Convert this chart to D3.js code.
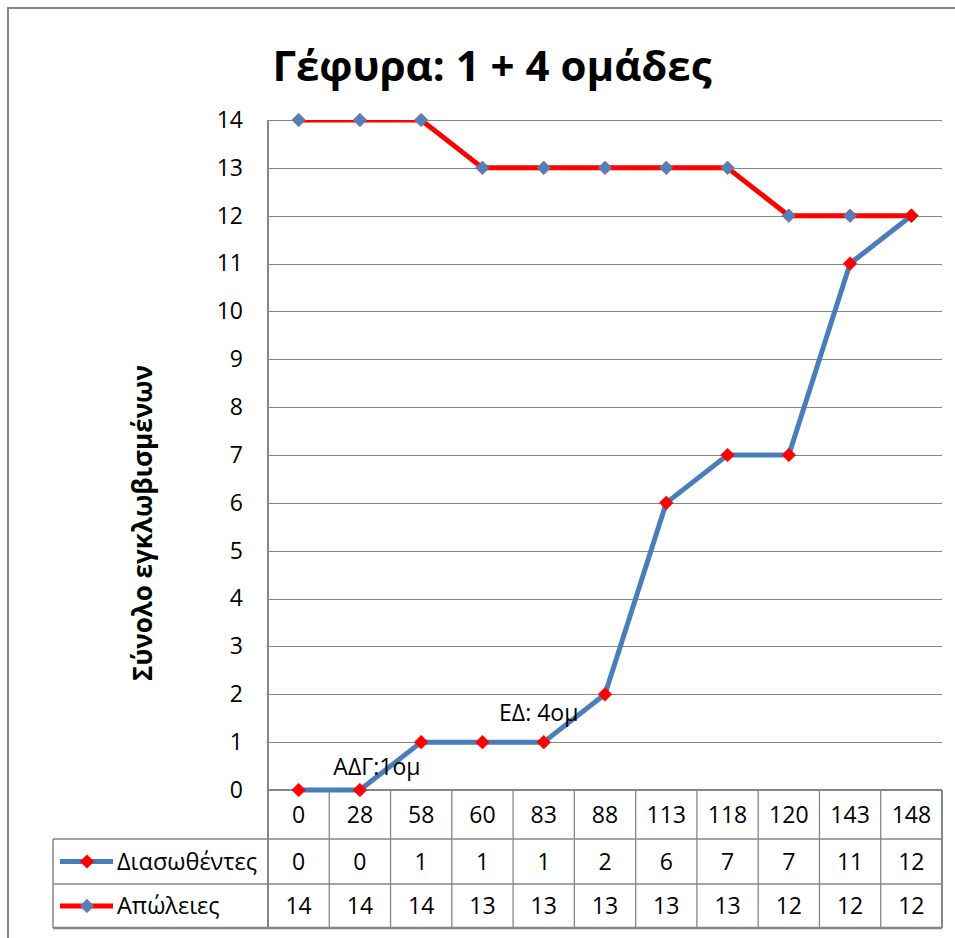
<!DOCTYPE html>
<html>
<head>
<meta charset="utf-8">
<script src="https://cdn.jsdelivr.net/npm/d3@7/dist/d3.min.js"></script>
<style>
  html, body { margin: 0; padding: 0; background: #fff; }
  text { font-family: "Open Sans", "Noto Sans", sans-serif; fill: #000; }
</style>
</head>
<body>
<svg id="chart" width="955" height="938"></svg>
<script>
const categories = ["0", "28", "58", "60", "83", "88", "113", "118", "120", "143", "148"];
const rescued = [0, 0, 1, 1, 1, 2, 6, 7, 7, 11, 12];
const losses = [14, 14, 14, 13, 13, 13, 13, 13, 12, 12, 12];
const yTicks = d3.range(0, 15);
const seriesNames = ["Διασωθέντες", "Απώλειες"];
const titleText = "Γέφυρα: 1 + 4 ομάδες";
const yTitle = "Σύνολο εγκλωβισμένων";
const annotationLabels = ["ΑΔΓ:1ομ", "ΕΔ: 4ομ"];
const annotationCats = ["28", "83"];
const annotationValues = [0, 1];

const svg = d3.select("#chart");
const grid = "#868686";
const blue = "#4a7ebb";
const red = "#ff0000";
const markerBlue = "#4f81bd";

const plot = { left: 268, right: 942, top: 120, bottom: 790 };
const table = { left: 53, row1: 839, row2: 884, bottom: 928 };

const x = d3.scaleBand().domain(categories).range([plot.left, plot.right]);
const y = d3.scaleLinear().domain([0, 14]).range([plot.bottom, plot.top]);

// outer chart border (right/bottom fall outside the frame)
svg.append("rect").attr("x", 8).attr("y", 8).attr("width", 1000).attr("height", 1000)
  .attr("fill", "none").attr("stroke", grid).attr("stroke-width", 2);

// title
svg.append("text").attr("x", 492).attr("y", 81).attr("text-anchor", "middle")
  .style("font-size", "42px").style("font-weight", "bold").text(titleText);

// gridlines
svg.append("g").selectAll("line").data(yTicks.filter(d => d > 0)).join("line")
  .attr("x1", plot.left).attr("x2", plot.right)
  .attr("y1", d => Math.round(y(d)) + 0.5).attr("y2", d => Math.round(y(d)) + 0.5)
  .attr("stroke", grid).attr("stroke-width", 1.2);

// y axis
const yAxis = d3.axisLeft(y).tickValues(yTicks).tickSize(0).tickPadding(25);
const gy = svg.append("g").attr("transform", `translate(${plot.left},0)`).call(yAxis);
gy.select(".domain").remove();
gy.selectAll("text").style("font-size", "23px").attr("font-family", null);

// y title
svg.append("text").attr("transform", `translate(152,523) rotate(-90)`)
  .attr("text-anchor", "middle").style("font-size", "26px").style("font-weight", "bold")
  .text(yTitle);

// data table lines
const tg = svg.append("g").attr("stroke", grid).attr("stroke-width", 1.5);
const bounds = categories.map(c => x(c)).concat([plot.right]);
tg.selectAll("line.v").data(bounds).join("line").attr("class", "v")
  .attr("x1", d => d).attr("x2", d => d)
  .attr("y1", (d, i) => i === 0 ? plot.top : plot.bottom).attr("y2", table.bottom)
  .attr("stroke-width", (d, i) => (i === 0 || i === bounds.length - 1) ? 2 : 1.3);
tg.append("line").attr("x1", table.left).attr("x2", table.left).attr("y1", table.row1).attr("y2", table.bottom);
tg.append("line").attr("x1", plot.left).attr("x2", plot.right).attr("y1", plot.bottom).attr("y2", plot.bottom).attr("stroke-width", 2);
[table.row1, table.row2].forEach(v => tg.append("line").attr("x1", table.left).attr("x2", plot.right).attr("y1", v).attr("y2", v));
tg.append("line").attr("x1", table.left).attr("x2", plot.right).attr("y1", table.bottom).attr("y2", table.bottom).attr("stroke-width", 2.5);

// table texts
const rows = [
  { y: (plot.bottom + table.row1) / 2, vals: categories },
  { y: (table.row1 + table.row2) / 2, vals: rescued },
  { y: (table.row2 + table.bottom) / 2, vals: losses }
];
rows.forEach(r => {
  svg.append("g").selectAll("text").data(r.vals).join("text")
    .attr("x", (d, i) => x(categories[i]) + x.bandwidth() / 2)
    .attr("y", r.y).attr("dy", "0.36em").attr("text-anchor", "middle")
    .style("font-size", "23px").text(d => d);
});

// diamond marker
const diamond = d3.symbol().type(d3.symbolDiamond2).size(120);

// legend keys in table
const legendRows = [
  { y: (table.row1 + table.row2) / 2, line: blue, mark: red, markStroke: red, name: seriesNames[0] },
  { y: (table.row2 + table.bottom) / 2, line: red, mark: markerBlue, markStroke: "#c0504d", name: seriesNames[1] }
];
legendRows.forEach(l => {
  svg.append("line").attr("x1", 60).attr("x2", 113).attr("y1", l.y).attr("y2", l.y)
    .attr("stroke", l.line).attr("stroke-width", 5);
  svg.append("path").attr("d", diamond).attr("transform", `translate(87,${l.y})`)
    .attr("fill", l.mark).attr("stroke", l.markStroke).attr("stroke-width", 0.6);
  svg.append("text").attr("x", 117).attr("y", l.y).attr("dy", "0.36em")
    .style("font-size", "23.5px").text(l.name);
});

// clip for the series (Excel clips at plot area top)
svg.append("clipPath").attr("id", "plotclip").append("rect")
  .attr("x", plot.left).attr("y", plot.top).attr("width", plot.right - plot.left).attr("height", plot.bottom - plot.top + 10);

const cx = c => x(c) + x.bandwidth() / 2;
const line = d3.line().x((d, i) => cx(categories[i])).y(d => y(d));

const series = svg.append("g").attr("clip-path", "url(#plotclip)");
series.append("path").datum(losses).attr("d", line).attr("fill", "none")
  .attr("stroke", red).attr("stroke-width", 5).attr("stroke-linejoin", "round");
series.append("path").datum(rescued).attr("d", line).attr("fill", "none")
  .attr("stroke", blue).attr("stroke-width", 5).attr("stroke-linejoin", "round");

svg.append("g").selectAll("path").data(losses).join("path")
  .attr("d", diamond).attr("transform", (d, i) => `translate(${cx(categories[i])},${y(d)})`)
  .attr("fill", markerBlue).attr("stroke", "#c0504d").attr("stroke-width", 0.6);
svg.append("g").selectAll("path").data(rescued).join("path")
  .attr("d", diamond).attr("transform", (d, i) => `translate(${cx(categories[i])},${y(d)})`)
  .attr("fill", red).attr("stroke", red).attr("stroke-width", 0.6);

// annotations (label offsets relative to their point)
const annDx = [17, -5];
const annDy = [-15, -21];
svg.append("g").selectAll("text").data(annotationLabels).join("text")
  .attr("x", (d, i) => cx(annotationCats[i]) + annDx[i])
  .attr("y", (d, i) => y(annotationValues[i]) + annDy[i])
  .attr("text-anchor", "middle")
  .style("font-size", "23px").text(d => d);
</script>
</body>
</html>
